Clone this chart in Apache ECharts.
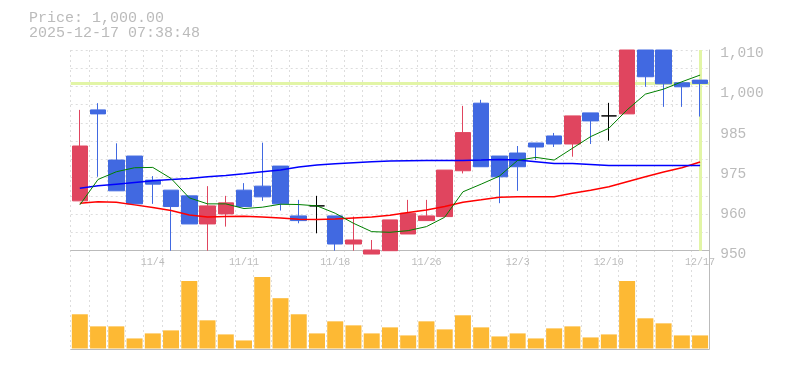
<!DOCTYPE html>
<html><head><meta charset="utf-8">
<script src="https://cdn.jsdelivr.net/npm/echarts@6/dist/echarts.min.js"></script>
<style>html,body{margin:0;padding:0;background:#fff}#c{width:785px;height:370px}</style>
</head><body><div id="c"></div>
<script>
const currentPrice = 1000;
const stamp = '2025-12-17 07:38:48';
const dates = ['10/28','10/29','10/30','10/31','11/4','11/5','11/6','11/7','11/10','11/11','11/12','11/13','11/14','11/17','11/18','11/19','11/20','11/21','11/25','11/26','11/27','11/28','12/1','12/2','12/3','12/4','12/5','12/8','12/9','12/10','12/11','12/12','12/15','12/16','12/17'];
const opens  = [964.9,992.1,977.1,978.3,971.1,968.1,966.4,958.0,961.0,968.1,969.3,975.3,960.4,963.4,960.4,952.0,949.0,950.0,955.0,959.0,960.2,973.9,994.1,978.3,979.2,982.2,984.3,981.9,991.2,990.3,990.9,1010,1010,1000.2,1001.0];
const closes = [981.3,990.9,967.9,964.0,969.9,963.2,958.0,963.4,964.3,963.2,966.1,964.0,959.0,963.4,952.0,953.2,950.2,959.2,961.2,960.4,974.1,985.3,975.1,972.1,975.1,981.0,981.9,990.3,988.8,990.3,1010,1002.0,999.9,999.0,1000.0];
const lows   = [964.9,972.1,967.9,964.0,964.0,950.0,958.0,950.0,957.2,963.2,964.9,962.0,958.2,955.2,950.0,950.0,949.0,950.0,955.0,959.0,960.2,973.1,975.1,964.2,967.9,977.1,981.0,978.1,981.9,982.9,990.9,999.0,993.0,993.0,990.1];
const highs  = [992.1,994.1,982.1,978.3,972.3,968.1,966.4,969.3,966.4,970.2,982.3,975.3,965.2,966.4,960.4,960.2,953.2,959.2,965.2,965.2,974.1,993.3,995.1,978.3,981.3,982.2,985.2,990.3,991.2,994.2,1010,1010,1010,1000.2,1001.0];
const volumes = [42.5,27.5,27.5,12.5,18.75,22.5,83.75,35,17.5,10,88.75,62.5,42.5,18.75,33.75,28.75,18.75,26.25,16.25,33.75,23.75,41.25,26.25,15,18.75,12.5,25,27.5,13.75,17.5,83.75,37.5,31.25,16.25,16.25];
const ma5  = [963.7,971.3,973.6,974.8,974.9,971.6,965.8,964.0,964.0,962.6,963.0,963.9,963.8,963.4,961.2,958.2,955.7,955.5,956.0,957.2,960.0,967.6,969.9,972.3,977.0,977.9,977.1,980.6,984.1,986.6,992.1,996.8,998.3,1000.5,1002.5];
const ma25 = [968.7,969.4,969.9,970.4,970.9,971.3,971.6,972.1,972.5,973.0,973.6,974.1,975.0,975.6,976.0,976.3,976.6,976.8,976.9,977.0,977.0,977.0,977.1,977.3,977.1,976.6,976.1,976.1,975.8,975.5,975.5,975.5,975.5,975.5,975.5];
const ma75 = [964.2,964.6,964.5,963.7,962.9,962.0,960.7,960.1,960.2,960.3,960.1,959.8,959.4,959.3,959.5,959.8,960.1,960.6,961.4,962.2,963.2,964.5,965.2,966.0,966.1,966.1,966.1,967.2,968.1,969.1,970.6,972.1,973.5,974.8,976.5];
const yMin = 950, yMax = 1010, yStep = 12;
const yTickLabels = ['950','960','975','985','1,000','1,010'];

const MONO = 'Liberation Mono';
const GRAY = '#bbbbbb';
const GRID_LINE = {color:'#dddddd', type:[2,3], width:1};
const UP = '#E0455F', DOWN = '#4169E1';

const candleData = dates.map((d,i) => {
  const item = {value:[opens[i], closes[i], lows[i], highs[i]]};
  if (opens[i] === closes[i]) item.itemStyle = {color:'#000', color0:'#000', borderColor:'#000', borderColor0:'#000', borderColorDoji:'#000'};
  return item;
});

const L = 70.7, R = 75.8;
const chart = echarts.init(document.getElementById('c'), null, {renderer:'canvas'});
chart.setOption({
  animation:false,
  backgroundColor:'#fff',
  graphic:[
    {type:'text', left:29, top:11, style:{text:'Price: ' + currentPrice.toLocaleString('en-US',{minimumFractionDigits:2, maximumFractionDigits:2}), fill:GRAY, font:'15px "' + MONO + '"'}},
    {type:'text', left:29, top:26, style:{text:stamp, fill:GRAY, font:'15px "' + MONO + '"'}}
  ],
  grid:[
    {left:L, right:R, top:50, height:200.7},
    {left:L, right:R, top:268, height:80.5},
    {left:L, right:R, top:50, height:299}
  ],
  xAxis:[
    {gridIndex:0, type:'category', data:dates, boundaryGap:true,
     axisLine:{onZero:false, lineStyle:{color:GRAY, width:1}}, axisTick:{show:false},
     axisLabel:{interval:(i)=> i % 5 === 4, color:GRAY, fontFamily:MONO, fontSize:10, margin:7},
     splitLine:{show:false}},
    {gridIndex:1, type:'category', data:dates, boundaryGap:true, show:false},
    {gridIndex:2, type:'category', data:dates, boundaryGap:true,
     axisLine:{onZero:false, lineStyle:{color:GRAY, width:1}}, axisTick:{show:false, interval:0},
     axisLabel:{show:false}, splitLine:{show:true, interval:0, lineStyle:GRID_LINE}}
  ],
  yAxis:[
    {gridIndex:0, type:'value', position:'right', min:yMin, max:yMax, interval:yStep,
     axisLine:{show:false}, axisTick:{show:false}, splitLine:{show:false},
     axisLabel:{color:GRAY, fontFamily:MONO, fontSize:14.5, margin:11, verticalAlign:'top', padding:[-4,0,0,0],
       formatter:(v)=> yTickLabels[Math.round((v - yMin)/yStep)] || ''}},
    {gridIndex:0, type:'value', position:'left', min:0, max:11, interval:1,
     axisLine:{show:false}, axisTick:{show:false}, axisLabel:{show:false},
     splitLine:{show:true, lineStyle:GRID_LINE}},
    {gridIndex:1, type:'value', min:0, max:100, show:false},
    {gridIndex:2, type:'value', position:'right', min:0, max:1,
     axisLine:{show:true, lineStyle:{color:GRAY, width:1}}, axisTick:{show:false},
     axisLabel:{show:false}, splitLine:{show:false}}
  ],
  series:[
    {type:'line', xAxisIndex:0, yAxisIndex:0, data:[], silent:true, z:1,
     markLine:{symbol:'none', silent:true, animation:false, label:{show:false},
       lineStyle:{color:'#e2f5a6', width:3, type:'solid'},
       data:[{yAxis:currentPrice},{xAxis:dates[dates.length-1]}]}},
    {type:'candlestick', xAxisIndex:0, yAxisIndex:0, data:candleData, barWidth:16, clip:false, z:10,
     itemStyle:{color:UP, color0:DOWN, borderColor:UP, borderColor0:DOWN, borderColorDoji:'#000', borderWidth:1}},
    {type:'line', xAxisIndex:0, yAxisIndex:0, data:ma75, symbol:'none', z:11, lineStyle:{color:'#ff0000', width:1.5}},
    {type:'line', xAxisIndex:0, yAxisIndex:0, data:ma25, symbol:'none', z:11, lineStyle:{color:'#0000ff', width:1.5}},
    {type:'line', xAxisIndex:0, yAxisIndex:0, data:ma5, symbol:'none', z:12, lineStyle:{color:'#008000', width:1}},
    {type:'bar', xAxisIndex:1, yAxisIndex:2, data:volumes, barWidth:16, itemStyle:{color:'#FDB934'}}
  ]
});
</script></body></html>
